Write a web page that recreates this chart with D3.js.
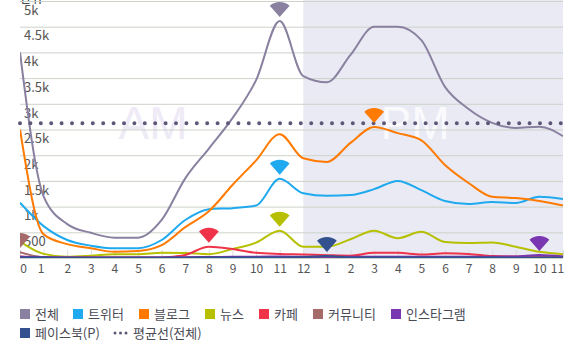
<!DOCTYPE html>
<html>
<head>
<meta charset="utf-8">
<script src="https://cdn.jsdelivr.net/npm/d3@7"></script>
<style>
    html, body { margin: 0; padding: 0; background: #fff; overflow: hidden; }
    text { font-family: "Noto Sans CJK KR", "Noto Sans", sans-serif; }
    .y-axis .domain, .x-axis .domain { display: none; }
</style>
</head>
<body>
<div id="chart"></div>
<script>
const hourLabels = ['0','1','2','3','4','5','6','7','8','9','10','11','12','1','2','3','4','5','6','7','8','9','10','11']
const yTicks = [0, 500, 1000, 1500, 2000, 2500, 3000, 3500, 4000, 4500, 5000]
const seriesNames = ['전체', '트위터', '블로그', '뉴스', '카페', '커뮤니티', '인스타그램', '페이스북(P)']
const seriesColors = ['#8a80a0', '#1fa9ee', '#ff7a00', '#b6c000', '#ef3349', '#a56a6a', '#7a35b0', '#33508f']
const averageName = '평균선(전체)'
const averageValue = 2620

const totalValues = [4000,1200,660,490,395,395,740,1550,2130,2720,3460,4610,3540,3420,3950,4500,4500,4240,3330,2900,2630,2530,2555,2370]
const twitterValues = [1075,620,350,240,190,190,350,740,950,970,1020,1540,1260,1210,1225,1340,1500,1320,1110,1050,1090,1070,1190,1150]
const blogValues = [2500,460,270,190,120,135,250,600,910,1420,1900,2410,1940,1870,2240,2550,2430,2290,1810,1460,1190,1165,1110,1020]
const newsValues = [320,80,25,45,75,75,100,95,75,175,300,530,220,220,365,530,385,510,310,290,300,220,120,75]
const cafeValues = [30,10,8,8,8,8,10,60,220,175,100,80,70,55,45,100,100,70,90,80,40,30,30,25]
const communityValues = [115,15,8,6,5,5,5,8,12,15,20,18,15,12,10,12,15,14,12,10,10,8,8,6]
const instagramValues = [22,18,12,10,10,10,12,15,20,22,25,28,24,22,22,24,26,24,25,24,26,30,58,28]
const facebookValues = [10,8,6,5,5,5,6,6,8,8,10,12,14,40,12,10,10,10,8,8,8,6,8,6]
const allSeries = [totalValues, twitterValues, blogValues, newsValues, cafeValues, communityValues, instagramValues, facebookValues]

const svg = d3.select('#chart').append('svg')
    .attr('width', 582)
    .attr('height', 351)

const margin = { top: 1, bottom: 258, left: 20, right: 563 }

const xScale = d3.scalePoint()
    .domain(d3.range(0, hourLabels.length))
    .range([margin.left, margin.right])
const yScale = d3.scaleLinear()
    .domain([0, 5000])
    .range([margin.bottom, margin.top])

svg.append('clipPath').attr('id', 'plot-clip')
    .append('rect')
    .attr('x', margin.left)
    .attr('y', 0)
    .attr('width', margin.right - margin.left)
    .attr('height', margin.bottom)

// pm band
svg.append('rect')
    .attr('x', xScale(12))
    .attr('y', 0)
    .attr('width', margin.right - xScale(12))
    .attr('height', margin.bottom)
    .attr('fill', '#e9eaf3')

// am / pm watermark
svg.append('text')
    .attr('x', 153).attr('y', 139)
    .attr('text-anchor', 'middle')
    .attr('font-size', 46)
    .style('font-family', '"Liberation Sans"')
    .attr('fill', '#eeeaf6')
    .text('AM')
svg.append('text')
    .attr('x', 415).attr('y', 139)
    .attr('text-anchor', 'middle')
    .attr('font-size', 46)
    .style('font-family', '"Liberation Sans"')
    .attr('fill', '#fafafd')
    .text('PM')

// unit title, cut off by the top of the picture
svg.append('text')
    .attr('x', 20).attr('y', 3)
    .attr('font-size', 12)
    .attr('fill', '#222')
    .text('단위')

// grid comes from the axis ticks, labels sit just under each line
const yAxis = svg.append('g')
    .attr('class', 'y-axis')
    .attr('transform', `translate(${margin.left}, 0)`)
    .call(d3.axisRight(yScale)
        .tickValues(yTicks)
        .tickSize(margin.right - margin.left)
        .tickFormat(d => d === 0 ? '' : d >= 1000 ? `${d / 1000}k` : d))
yAxis.selectAll('line').attr('stroke', '#cdd3c9')
yAxis.selectAll('text')
    .attr('x', 4)
    .attr('dy', '1.02em')
    .attr('fill', '#555')
    .attr('font-size', 13)

const xAxis = svg.append('g')
    .attr('class', 'x-axis')
    .attr('transform', `translate(0, ${margin.bottom})`)
    .call(d3.axisBottom(xScale)
        .tickSize(-8)
        .tickFormat(i => hourLabels[i]))
xAxis.selectAll('line').attr('stroke', '#dcdcdc')
xAxis.selectAll('text')
    .attr('y', 6)
    .attr('dy', '0.71em')
    .attr('fill', '#555')
    .attr('font-size', 12)
    .attr('dx', i => i === 0 ? 3 : i === 1 ? -3 : i === 23 ? -6 : 0)

const line = d3.line()
    .x((d, i) => xScale(i))
    .y(d => yScale(d))
    .curve(d3.curveMonotoneX)

const lines = svg.append('g').attr('clip-path', 'url(#plot-clip)')
lines.selectAll('path')
    .data(allSeries)
    .enter()
    .append('path')
    .attr('d', d => line(d))
    .attr('fill', 'none')
    .attr('stroke', (d, i) => seriesColors[i])
    .attr('stroke-width', 2)

// average line
svg.append('line')
    .attr('x1', margin.left)
    .attr('x2', margin.right)
    .attr('y1', yScale(averageValue))
    .attr('y2', yScale(averageValue))
    .attr('stroke', '#5f5777')
    .attr('stroke-width', 4)
    .attr('stroke-linecap', 'round')
    .attr('stroke-dasharray', '0 10.4')

// peak markers
const fan = d3.arc()
    .innerRadius(0)
    .outerRadius(15)
    .startAngle(-0.72)
    .endAngle(0.72)
const markers = svg.append('g').attr('clip-path', 'url(#plot-clip)')
markers.selectAll('path')
    .data(allSeries)
    .enter()
    .append('path')
    .attr('d', fan())
    .attr('fill', (d, i) => seriesColors[i])
    .attr('transform', d => {
        const peak = d3.maxIndex(d)
        return `translate(${xScale(peak)}, ${yScale(d[peak]) - 4})`
    })

// legend
const legendRows = [
    [[20, 0], [73, 1], [139, 2], [205, 3], [259, 4], [313, 5], [391, 6]],
    [[20, 7]]
]
const legendY = [314, 333]
legendRows.forEach((row, r) => {
    const g = svg.append('g').attr('transform', `translate(0, ${legendY[r]})`)
    row.forEach(([x, idx]) => {
        g.append('rect')
            .attr('x', x).attr('y', -5)
            .attr('width', 10).attr('height', 10)
            .attr('fill', seriesColors[idx])
        g.append('text')
            .attr('x', x + 15)
            .attr('dy', '0.36em')
            .attr('font-size', 13)
            .attr('fill', '#4a4a55')
            .text(seriesNames[idx])
    })
})
const avgLegend = svg.append('g').attr('transform', `translate(0, ${legendY[1]})`)
avgLegend.append('line')
    .attr('x1', 115).attr('x2', 128)
    .attr('stroke', '#5f5777')
    .attr('stroke-width', 3)
    .attr('stroke-linecap', 'round')
    .attr('stroke-dasharray', '0 5.5')
avgLegend.append('text')
    .attr('x', 133)
    .attr('dy', '0.36em')
    .attr('font-size', 13)
    .attr('fill', '#4a4a55')
    .text(averageName)
</script>
</body>
</html>
